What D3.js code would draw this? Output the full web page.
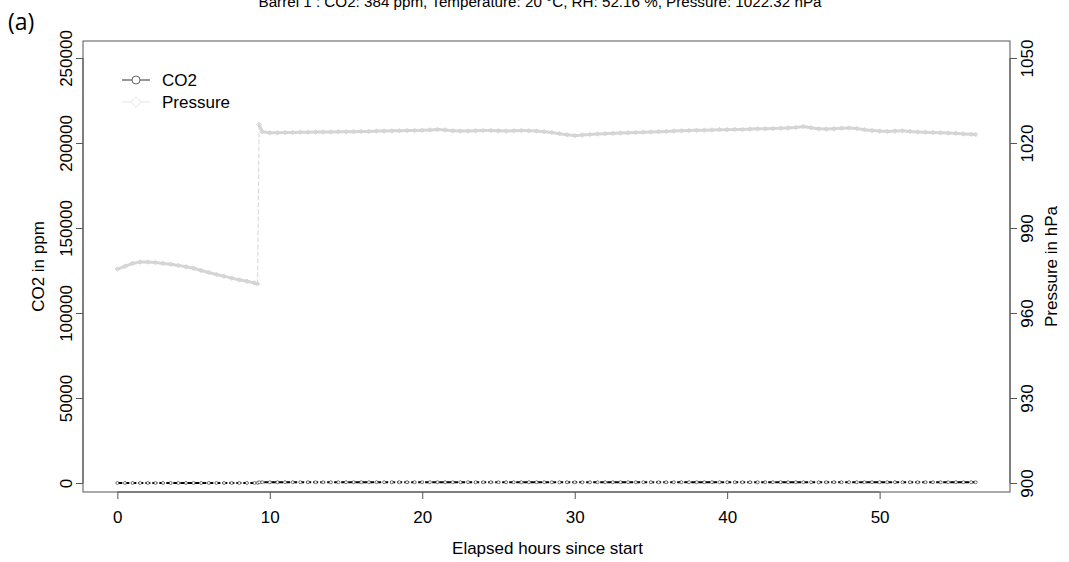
<!DOCTYPE html>
<html>
<head>
<meta charset="utf-8">
<script src="https://cdn.jsdelivr.net/npm/d3@7"></script>
<style>
  body { margin: 0; background: #fff; }
  svg { display: block; font-family: "Liberation Sans", Arial, sans-serif; }
  .tick-label { font-size: 17px; fill: #000; }
  .axis-title { font-size: 17px; fill: #000; }
</style>
</head>
<body>
<svg id="chart" width="1069" height="562"></svg>
<script>
// elapsed hours for each reading
var hours = [0, 0.5, 1, 1.5, 2, 2.5, 3, 3.5, 4, 4.5, 5, 5.5, 6, 6.5, 7, 7.5, 8, 8.5, 9, 9.2,
  9.3, 9.5, 10, 10.5, 11, 11.5, 12, 12.5, 13, 13.5, 14, 14.5, 15, 15.5, 16, 16.5, 17, 17.5,
  18, 18.5, 19, 19.5, 20, 20.5, 21, 21.5, 22, 22.5, 23, 23.5, 24, 24.5, 25, 25.5, 26, 26.5,
  27, 27.5, 28, 28.5, 29, 29.5, 30, 30.5, 31, 31.5, 32, 32.5, 33, 33.5, 34, 34.5, 35, 35.5,
  36, 36.5, 37, 37.5, 38, 38.5, 39, 39.5, 40, 40.5, 41, 41.5, 42, 42.5, 43, 43.5, 44, 44.5,
  45, 45.5, 46, 46.5, 47, 47.5, 48, 48.5, 49, 49.5, 50, 50.5, 51, 51.5, 52, 52.5, 53, 53.5,
  54, 54.5, 55, 55.5, 56, 56.3];

// CO2 in ppm
var co2 = [20, 10, 0, 10, 20, 10, 0, 10, 20, 30, 20, 10, 20, 30, 20, 10, 20, 30, 40, 50,
  450, 480, 470, 460, 480, 470, 460, 470, 480, 470, 460, 470, 480, 490, 470, 460, 480, 470,
  460, 470, 480, 470, 460, 480, 490, 470, 460, 470, 480, 470, 460, 470, 480, 470, 460, 470,
  480, 470, 460, 450, 440, 430, 420, 430, 440, 450, 460, 470, 480, 470, 460, 470, 480, 470,
  460, 470, 480, 470, 460, 470, 480, 470, 460, 470, 480, 470, 460, 470, 480, 470, 460, 470,
  480, 470, 460, 470, 480, 470, 460, 470, 480, 470, 460, 470, 480, 470, 460, 470, 480, 470,
  460, 470, 480, 470, 460, 450];

// Pressure in hPa
var pressure = [975.5, 976.5, 977.5, 978.0, 978.0, 977.8, 977.5, 977.2, 976.8, 976.3, 975.8,
  975.0, 974.3, 973.6, 973.0, 972.3, 971.7, 971.2, 970.6, 970.3,
  1026.5, 1024.0, 1023.6, 1023.6, 1023.7, 1023.7, 1023.8, 1023.8, 1023.9, 1023.9, 1023.9,
  1024.0, 1024.0, 1024.0, 1024.1, 1024.1, 1024.2, 1024.2, 1024.3, 1024.3, 1024.4, 1024.4,
  1024.5, 1024.6, 1024.8, 1024.6, 1024.3, 1024.2, 1024.2, 1024.3, 1024.4, 1024.4, 1024.3,
  1024.2, 1024.3, 1024.4, 1024.3, 1024.2, 1024.0, 1023.7, 1023.3, 1022.9, 1022.6, 1022.8,
  1023.0, 1023.2, 1023.3, 1023.4, 1023.5, 1023.6, 1023.7, 1023.8, 1023.9, 1024.0, 1024.1,
  1024.2, 1024.3, 1024.4, 1024.5, 1024.5, 1024.6, 1024.7, 1024.7, 1024.8, 1024.8, 1024.9,
  1025.0, 1025.0, 1025.1, 1025.2, 1025.3, 1025.5, 1025.8, 1025.4, 1025.0, 1024.9, 1025.0,
  1025.2, 1025.3, 1025.1, 1024.7, 1024.4, 1024.2, 1024.1, 1024.2, 1024.3, 1024.1, 1023.9,
  1023.8, 1023.7, 1023.6, 1023.5, 1023.4, 1023.2, 1023.1, 1023.0];

var xTicks = [0, 10, 20, 30, 40, 50];
var co2Ticks = [0, 50000, 100000, 150000, 200000, 250000];
var pressureTicks = [900, 930, 960, 990, 1020, 1050];

var titleText = "Barrel 1 : CO2: 384 ppm, Temperature: 20 °C, RH: 52.16 %, Pressure: 1022.32 hPa";
var seriesNames = ["CO2", "Pressure"];

var co2Color = "#000000",
    pressureColor = "#d6d6d6";

var svg = d3.select("#chart"),
    margin = {top: 41, right: 59, bottom: 70, left: 83},
    width = +svg.attr("width") - margin.left - margin.right,
    height = +svg.attr("height") - margin.top - margin.bottom;

var n = Math.min(hours.length, co2.length, pressure.length);
var rows = [];
for (var i = 0; i < n; i++) rows.push({h: hours[i], co2: co2[i], p: pressure[i]});

// R style: data range plus 4% on each side
var xMax = d3.max(hours), xPad = xMax * 0.04;
var x = d3.scaleLinear().domain([-xPad, xMax + xPad]).range([0, width]);
var yL = d3.scaleLinear().domain([-5300, 260000]).range([height, 0]);
var yR = d3.scaleLinear().domain([896.82, 1056.0]).range([height, 0]);

var g = svg.append("g")
    .attr("transform", "translate(" + margin.left + "," + margin.top + ")");

// title (its top sits above the page, as in the original)
svg.append("text")
    .attr("x", 540)
    .attr("y", 7)
    .attr("text-anchor", "middle")
    .style("font-size", "15.2px")
    .text(titleText);

svg.append("text")
    .attr("x", 8)
    .attr("y", 30)
    .style("font-family", "'Open Sans', sans-serif")
    .style("font-size", "23px")
    .text("(a)");

// x axis
var gx = g.append("g")
    .attr("transform", "translate(0," + height + ")")
    .call(d3.axisBottom(x).tickValues(xTicks).tickSize(7).tickPadding(6).tickFormat(d3.format("d")));
gx.select(".domain").attr("d", "M" + x(xTicks[0]) + ",0H" + x(xTicks[xTicks.length - 1]));
gx.selectAll(".tick text").attr("class", "tick-label").attr("dy", "1.05em");

// left axis
var gl = g.append("g")
    .call(d3.axisLeft(yL).tickValues(co2Ticks).tickSize(7).tickFormat(d3.format("d")));
gl.select(".domain").attr("d", "M0," + yL(co2Ticks[0]) + "V" + yL(co2Ticks[co2Ticks.length - 1]));
gl.selectAll(".tick text")
    .attr("class", "tick-label")
    .attr("x", null).attr("dy", null)
    .attr("text-anchor", "middle")
    .attr("dominant-baseline", "central")
    .attr("transform", "translate(-17,0) rotate(-90)");

// right axis
var gr = g.append("g")
    .attr("transform", "translate(" + width + ",0)")
    .call(d3.axisRight(yR).tickValues(pressureTicks).tickSize(7).tickFormat(d3.format("d")));
gr.select(".domain").attr("d", "M0," + yR(pressureTicks[0]) + "V" + yR(pressureTicks[pressureTicks.length - 1]));
gr.selectAll(".tick text")
    .attr("class", "tick-label")
    .attr("x", null).attr("dy", null)
    .attr("text-anchor", "middle")
    .attr("dominant-baseline", "central")
    .attr("transform", "translate(17,0) rotate(-90)");

[gx, gl, gr].forEach(function(a) {
  a.selectAll("path, line").attr("stroke", "#555").attr("stroke-width", 1);
  a.attr("font-family", null).attr("font-size", null);
});

// plot box
g.append("rect")
    .attr("width", width)
    .attr("height", height)
    .attr("fill", "none")
    .attr("stroke", "#555")
    .attr("stroke-width", 1);

// axis titles
g.append("text")
    .attr("class", "axis-title")
    .attr("x", width / 2 + 1)
    .attr("y", height + 62)
    .attr("text-anchor", "middle")
    .text("Elapsed hours since start");

svg.append("text")
    .attr("class", "axis-title")
    .attr("transform", "translate(44," + (margin.top + height / 2) + ") rotate(-90)")
    .attr("text-anchor", "middle")
    .text("CO2 in ppm");

svg.append("text")
    .attr("class", "axis-title")
    .attr("transform", "translate(1057," + (margin.top + height / 2) + ") rotate(-90)")
    .attr("text-anchor", "middle")
    .text("Pressure in hPa");

// pressure series: segment by segment so the big jump stays a thin dashed stroke
var pairs = d3.pairs(rows);
g.selectAll(".seg-p")
  .data(pairs)
  .enter().append("line")
    .attr("class", "seg-p")
    .attr("x1", function(d) { return x(d[0].h); })
    .attr("y1", function(d) { return yR(d[0].p); })
    .attr("x2", function(d) { return x(d[1].h); })
    .attr("y2", function(d) { return yR(d[1].p); })
    .attr("stroke", pressureColor)
    .attr("stroke-linecap", "round")
    .attr("stroke-width", function(d) { return Math.abs(d[1].p - d[0].p) > 10 ? 1 : 3; })
    .attr("stroke-dasharray", function(d) { return Math.abs(d[1].p - d[0].p) > 10 ? "4,3" : null; });

var diamond = d3.symbol().type(d3.symbolDiamond2).size(14);
g.selectAll(".pt-p")
  .data(rows)
  .enter().append("path")
    .attr("class", "pt-p")
    .attr("transform", function(d) { return "translate(" + x(d.h) + "," + yR(d.p) + ")"; })
    .attr("d", diamond)
    .attr("fill", "none")
    .attr("stroke", "#cfcfcf")
    .attr("stroke-width", 0.8);

// CO2 series
var cLine = d3.line().x(function(d) { return x(d.h); }).y(function(d) { return yL(d.co2); });
g.append("path")
    .datum(rows)
    .attr("fill", "none")
    .attr("stroke", co2Color)
    .attr("stroke-width", 2)
    .attr("stroke-dasharray", "5,2")
    .attr("d", cLine);

g.selectAll(".pt-c")
  .data(rows)
  .enter().append("circle")
    .attr("class", "pt-c")
    .attr("cx", function(d) { return x(d.h); })
    .attr("cy", function(d) { return yL(d.co2); })
    .attr("r", 1.5)
    .attr("fill", "#fff")
    .attr("stroke", "#444")
    .attr("stroke-width", 0.7);

// legend
var legend = svg.append("g").attr("transform", "translate(122,80)");
seriesNames.forEach(function(name, i) {
  var col = i === 0 ? "#333" : "#e6e6e6";
  var row = legend.append("g").attr("transform", "translate(0," + (i * 22) + ")");
  row.append("line")
      .attr("x1", 0).attr("x2", 28)
      .attr("stroke", col).attr("stroke-width", 1);
  if (i === 0) {
    row.append("circle").attr("cx", 14).attr("r", 4)
        .attr("fill", "#fff").attr("stroke", "#666").attr("stroke-width", 1);
  } else {
    row.append("path").attr("transform", "translate(14,0)")
        .attr("d", d3.symbol().type(d3.symbolDiamond2).size(70))
        .attr("fill", "#fff").attr("stroke", col).attr("stroke-width", 1);
  }
  row.append("text")
      .attr("x", 40)
      .attr("y", 6)
      .style("font-size", "17px")
      .text(name);
});
</script>
</body>
</html>
